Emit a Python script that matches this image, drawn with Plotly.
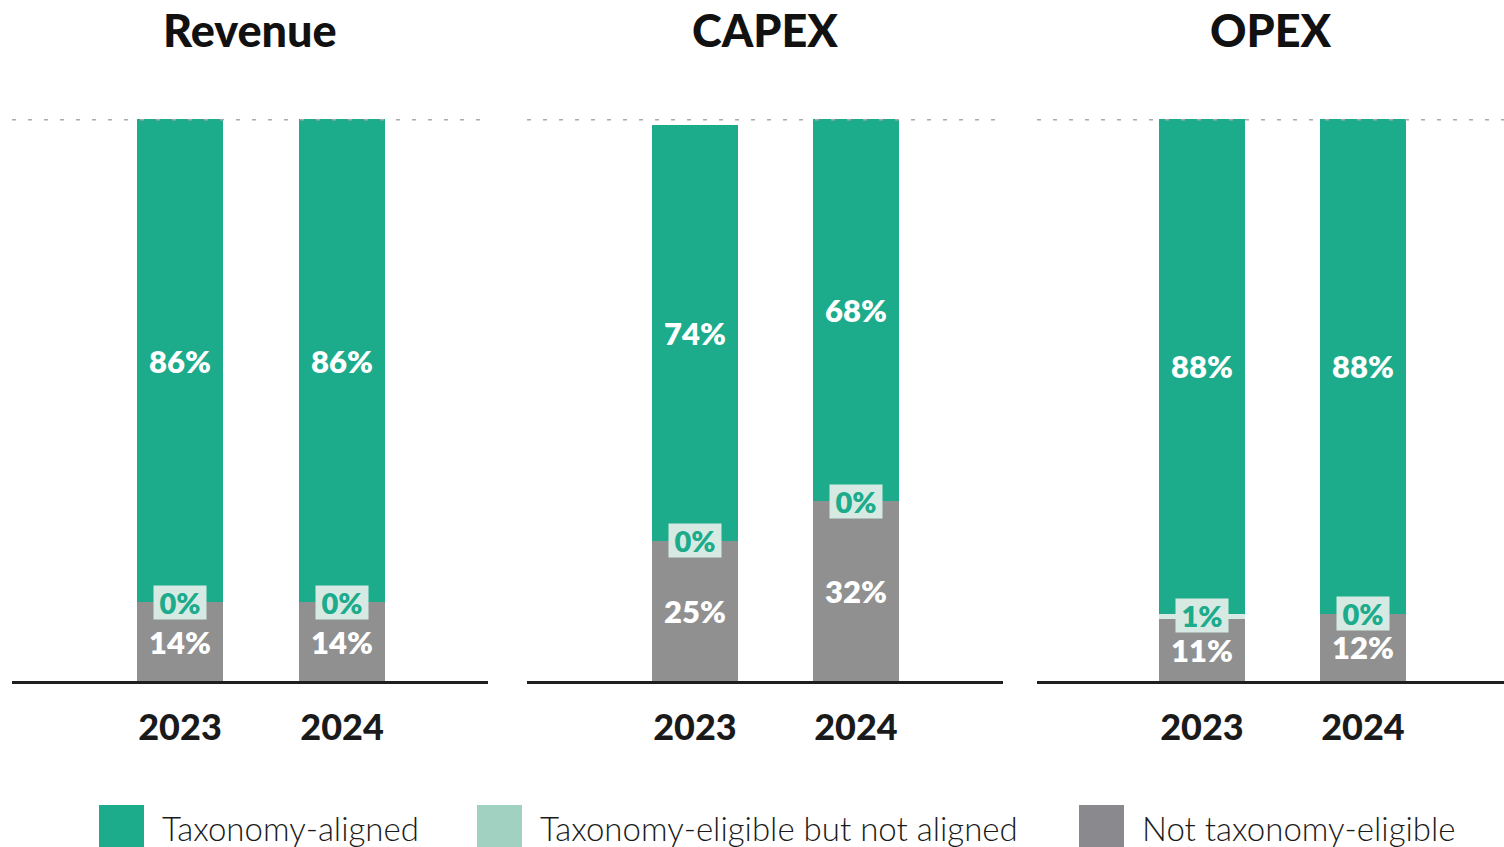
import plotly.graph_objects as go

panels = ["Revenue", "CAPEX", "OPEX"]
years = ["2023", "2024"]
aligned = {"Revenue": [86, 86], "CAPEX": [74, 68], "OPEX": [88, 88]}
eligible = {"Revenue": [0, 0], "CAPEX": [0, 0], "OPEX": [1, 0]}
not_eligible = {"Revenue": [14, 14], "CAPEX": [25, 32], "OPEX": [11, 12]}
series_names = ["Taxonomy-aligned", "Taxonomy-eligible but not aligned", "Not taxonomy-eligible"]

C_GREEN = "#1cab8b"
C_LIGHT = "#d6eae3"
C_LIGHT_LEG = "#a0d1c1"
C_GRAY = "#909090"
C_GRAY_LEG = "#8a8a8e"
FONT = "Lato"

W, H = 1504, 847
TOP, BOT = 119, 166
plot_h = H - TOP - BOT

def py(px):
    return (H - BOT - px) / plot_h

fig = go.Figure()
domains = [[12 / W, 488 / W], [527 / W, 1003 / W], [1037 / W, 1.0]]
ranges = [[-1.037, 1.901], [-1.043, 1.913], [-1.025, 1.876]]
xs = [0, 1]
lbl_font = dict(family=FONT, size=31, color="white", weight=800)

for i, p in enumerate(panels):
    xa = "x" if i == 0 else f"x{i+1}"
    fig.add_trace(go.Bar(x=xs, y=not_eligible[p], xaxis=xa, yaxis="y", width=0.53,
                         marker=dict(color=C_GRAY, line=dict(width=0)),
                         text=[f"{v}%" for v in not_eligible[p]], textposition="inside",
                         insidetextanchor="middle", textfont=lbl_font,
                         showlegend=False, name=series_names[2]))
    fig.add_trace(go.Bar(x=xs, y=eligible[p], xaxis=xa, yaxis="y", width=0.53,
                         marker=dict(color=C_LIGHT, line=dict(width=0)),
                         showlegend=False, name=series_names[1]))
    fig.add_trace(go.Bar(x=xs, y=aligned[p], xaxis=xa, yaxis="y", width=0.53,
                         marker=dict(color=C_GREEN, line=dict(width=0)),
                         text=[f"{v}%" for v in aligned[p]], textposition="inside",
                         insidetextanchor="middle", textfont=lbl_font,
                         showlegend=False, name=series_names[0]))
    for j in range(2):
        fig.add_annotation(x=xs[j], y=not_eligible[p][j] + eligible[p][j] / 2,
                           xref=xa, yref="y", text=f"{eligible[p][j]}%",
                           showarrow=False, bgcolor=C_LIGHT, borderpad=0,
                           width=52, height=33,
                           xanchor="center", yanchor="bottom" if eligible[p][j] else "middle",
                           yshift=-17 if eligible[p][j] else 0,
                           font=dict(family=FONT, size=29, color=C_GREEN, weight=800))
    fig.add_annotation(x=(domains[i][0] + domains[i][1]) / 2, y=py(30),
                       xref="paper", yref="paper", text=p, showarrow=False,
                       xanchor="center", yanchor="middle",
                       font=dict(family=FONT, size=45, color="#111111", weight=900))
    fig.add_shape(type="line", xref=f"{xa} domain", yref="y", x0=0, x1=1, y0=100, y1=100,
                  line=dict(color="#aaaaaa", width=3, dash="4px,12px"), layer="above")

    axkey = "xaxis" if i == 0 else f"xaxis{i+1}"
    fig.update_layout(**{axkey: dict(domain=domains[i], range=ranges[i], tickvals=xs,
                                      ticktext=years,
                                      showgrid=False, zeroline=False, showline=True,
                                      linecolor="#1f1f1f", linewidth=2.5, ticks="",
                                      ticklabelstandoff=13, fixedrange=True,
                                      tickfont=dict(family=FONT, size=36, color="#1a1a1a",
                                                    weight=900),
                                      anchor="y")})

leg_x = [99, 477, 1079]
leg_cols = [C_GREEN, C_LIGHT_LEG, C_GRAY_LEG]
for k in range(3):
    fig.add_shape(type="rect", xref="paper", yref="paper",
                  x0=leg_x[k] / W, x1=(leg_x[k] + 45) / W,
                  y0=py(870), y1=py(805),
                  fillcolor=leg_cols[k], line=dict(width=0))
    fig.add_annotation(x=(leg_x[k] + 61) / W, y=py(828), xref="paper",
                       yref="paper", text=series_names[k], showarrow=False,
                       xanchor="left", yanchor="middle",
                       font=dict(family=FONT, size=33, color="#1a1a1a", weight=300))

fig.update_layout(
    barmode="stack", width=W, height=H,
    margin=dict(l=0, r=0, t=TOP, b=BOT),
    plot_bgcolor="white", paper_bgcolor="white",
    yaxis=dict(range=[0, 100], visible=False, fixedrange=True),
    uniformtext=dict(minsize=28, mode="show"),
    showlegend=False,
)

fig.write_html("out.html", config={"displayModeBar": False},
               post_script="document.body.style.margin='0';")
